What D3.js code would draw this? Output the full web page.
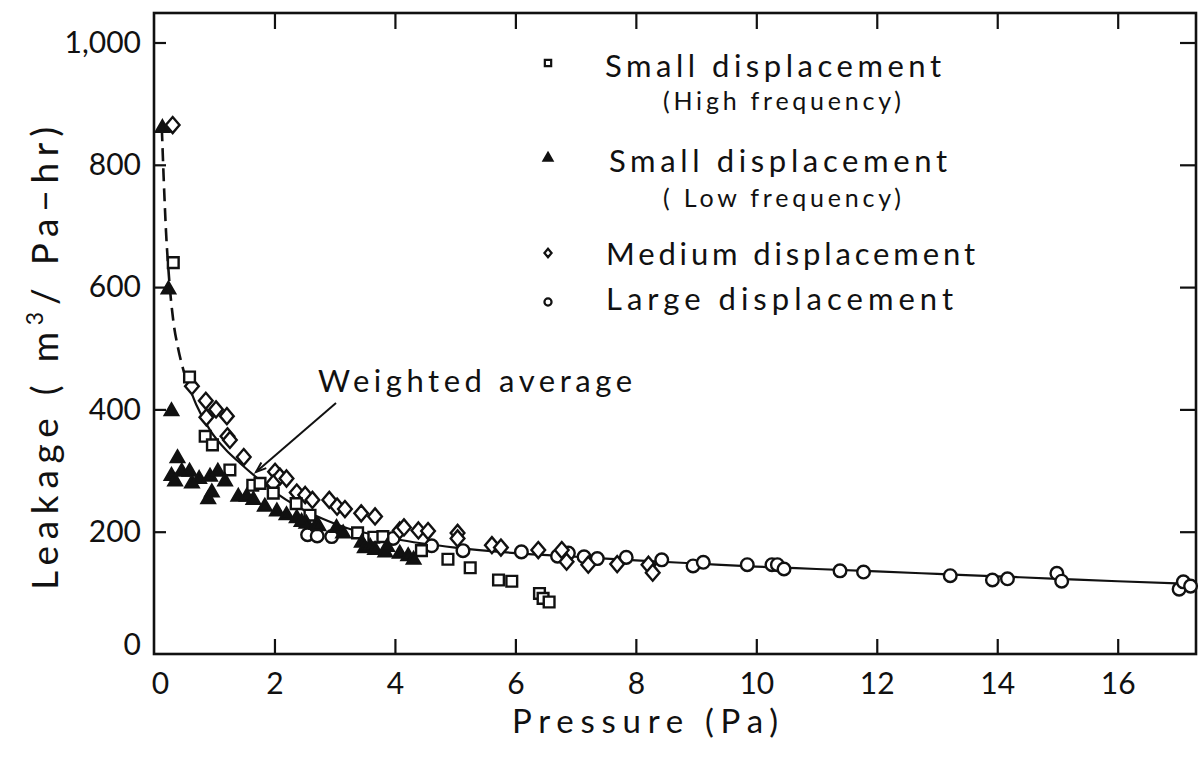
<!DOCTYPE html>
<html>
<head>
<meta charset="utf-8">
<script src="https://cdn.jsdelivr.net/npm/d3@7"></script>
<style>
  html, body { margin: 0; padding: 0; background: #fff; }
  svg { display: block; }
  text { font-family: Lato, "DejaVu Sans", sans-serif; fill: #111; }
</style>
</head>
<body>
<svg id="chart" width="1204" height="758"></svg>
<script>
// ---------------- data ----------------
const xTicks = [0, 2, 4, 6, 8, 10, 12, 14, 16];
const yTicks = [0, 200, 400, 600, 800, 1000];
const yTickLabels = ["0", "200", "400", "600", "800", "1,000"];

const seriesNames = ["Small displacement", "Small displacement", "Medium displacement", "Large displacement"];
const seriesSubs = ["(High frequency)", "( Low frequency)", "", ""];

// Small displacement (High frequency) - squares
const squareP = [0.32, 0.59, 0.85, 0.97, 1.26, 1.64, 1.76, 1.98, 2.36, 2.59, 3.38, 3.65, 3.80, 4.44, 4.88, 5.25, 5.72, 5.94, 6.40, 6.46, 6.56];
const squareL = [640, 453, 356, 342, 301, 276, 279, 263, 246, 227, 198, 191, 192, 169, 155, 141, 121, 119, 99, 91, 85];

// Small displacement (Low frequency) - filled triangles
const triP = [0.14, 0.24, 0.29, 0.39, 0.29, 0.35, 0.46, 0.59, 0.63, 0.75, 0.93, 1.06, 1.18, 0.96, 0.90, 1.40, 1.54, 1.65, 1.84, 2.04, 2.20, 2.37, 2.53, 2.45, 2.70, 2.73, 3.03, 3.14, 3.45, 3.50, 3.59, 3.67, 3.84, 3.87, 4.08, 4.22, 4.31];
const triL = [860, 596, 397, 320, 291, 282, 298, 298, 279, 286, 290, 298, 282, 264, 253, 257, 257, 252, 241, 233, 227, 222, 213, 216, 211, 209, 206, 197, 182, 173, 175, 170, 166, 175, 164, 160, 154];

// Medium displacement - diamonds
const diaP = [0.31, 0.63, 0.86, 1.03, 0.87, 1.21, 1.22, 1.26, 1.49, 2.01, 2.09, 2.20, 1.98, 2.37, 2.51, 2.63, 2.91, 3.04, 3.17, 3.44, 3.67, 4.08, 4.15, 4.39, 4.55, 5.04, 5.04, 5.61, 5.76, 6.38, 6.77, 6.85, 7.21, 7.69, 8.21, 8.28];
const diaL = [865, 438, 414, 400, 387, 389, 356, 350, 322, 298, 290, 287, 279, 264, 260, 252, 252, 241, 237, 230, 225, 202, 207, 202, 201, 198, 189, 178, 174, 170, 170, 151, 146, 147, 146, 133];

// Large displacement - open circles
const circP = [2.55, 2.71, 2.95, 3.97, 4.61, 5.13, 6.10, 6.70, 6.88, 7.14, 7.36, 7.84, 8.43, 8.95, 9.12, 9.85, 10.26, 10.35, 10.46, 11.39, 11.78, 13.22, 13.92, 14.17, 14.99, 15.07, 17.02, 17.09, 17.21];
const circL = [195, 193, 192, 189, 177, 169, 167, 160, 165, 159, 156, 158, 154, 144, 150, 146, 146, 146, 139, 136, 134, 128, 121, 123, 132, 119, 106, 118, 111];

// Weighted average curve (dashed part, then solid part)
const dashP = [0.13, 0.16, 0.20, 0.25, 0.32, 0.40, 0.50];
const dashL = [860, 780, 690, 615, 545, 500, 460];
const solidP = [0.50, 0.70, 0.93, 1.20, 1.43, 1.71, 2.00, 2.40, 2.80, 3.20, 3.60, 4.00, 5.00, 6.00, 7.00, 8.00, 9.00, 10.00, 11.00, 12.00, 13.00, 14.00, 15.00, 16.00, 17.10];
const solidL = [460, 408, 366, 333, 312, 288, 265, 240, 221, 206, 196, 188, 174, 165, 159, 153, 148, 143, 139, 135, 131, 127, 123, 119, 115];

// ---------------- drawing ----------------
const svg = d3.select("#chart");
const X0 = 154, X1 = 1196, Y0 = 654, YT = 13;
const x = d3.scaleLinear().domain([0, 17.3]).range([X0, X1]);
const y = d3.scaleLinear().domain([0, 1000]).range([Y0, 42.5]);

// frame
svg.append("rect").attr("x", X0).attr("y", YT).attr("width", X1 - X0).attr("height", Y0 - YT)
  .attr("fill", "none").attr("stroke", "#111").attr("stroke-width", 2.6);

// bottom axis
const gB = svg.append("g").attr("transform", `translate(0,${Y0})`)
  .call(d3.axisBottom(x).tickValues(xTicks).tickSize(-15).tickPadding(19).tickFormat(d3.format("d")));
gB.select(".domain").remove();
gB.selectAll(".tick line").attr("stroke", "#111").attr("stroke-width", 2.2)
  .attr("display", d => d === 0 ? "none" : null);
gB.selectAll(".tick text").attr("font-size", 30).attr("fill", "#111")
  .attr("dx", d => d === 0 ? 6 : 0);

// top axis (ticks only)
const gT = svg.append("g").attr("transform", `translate(0,${YT})`)
  .call(d3.axisTop(x).tickValues(xTicks.filter(d => d > 0)).tickSize(-16).tickFormat(""));
gT.select(".domain").remove();
gT.selectAll(".tick line").attr("stroke", "#111").attr("stroke-width", 2.2);

// left axis
const gL = svg.append("g").attr("transform", `translate(${X0},0)`)
  .call(d3.axisLeft(y).tickValues(yTicks).tickSize(-12).tickPadding(13)
    .tickFormat((d, i) => yTickLabels[i]));
gL.select(".domain").remove();
gL.selectAll(".tick line").attr("stroke", "#111").attr("stroke-width", 2.2)
  .attr("display", d => d === 0 ? "none" : null);
gL.selectAll(".tick text").attr("font-size", 30).attr("fill", "#111")
  .attr("dy", d => d === 0 ? "0.0em" : "0.32em");

// right axis (ticks only)
const gR = svg.append("g").attr("transform", `translate(${X1},0)`)
  .call(d3.axisRight(y).tickValues(yTicks.filter(d => d > 0)).tickSize(-16).tickFormat(""));
gR.select(".domain").remove();
gR.selectAll(".tick line").attr("stroke", "#111").attr("stroke-width", 2.2);

// axis titles
svg.append("text").attr("x", 645).attr("y", 733).attr("text-anchor", "middle")
  .attr("font-size", 33).attr("textLength", 266).attr("lengthAdjust", "spacing")
  .text("Pressure (Pa)");

const yt = svg.append("text").attr("transform", "translate(58,355) rotate(-90)")
  .attr("text-anchor", "middle").attr("font-size", 37);
yt.append("tspan").text("Leakage ( m");
yt.append("tspan").attr("font-size", 23).attr("dy", -15).text("3");
yt.append("tspan").attr("dy", 15).text("/ Pa\u2212hr)");
{
  const len = yt.node().getComputedTextLength();
  const n = "Leakage ( m3/ Pa-hr)".length;
  yt.attr("letter-spacing", Math.max(0, (470 - len) / n));
}

// curve
const line = d3.line().x(d => x(d[0])).y(d => y(d[1])).curve(d3.curveMonotoneX);
svg.append("path").datum(dashP.map((p, i) => [p, dashL[i]]))
  .attr("d", line).attr("fill", "none").attr("stroke", "#111").attr("stroke-width", 2.6)
  .attr("stroke-dasharray", "13,7");
svg.append("path").datum(solidP.map((p, i) => [p, solidL[i]]))
  .attr("d", line).attr("fill", "none").attr("stroke", "#111").attr("stroke-width", 2.2);

// marker generators
const wideDiamond = {
  draw(ctx, size) {
    const h = Math.sqrt(size / 1.7);
    const w = h * 0.85;
    ctx.moveTo(0, -h); ctx.lineTo(w, 0); ctx.lineTo(0, h); ctx.lineTo(-w, 0); ctx.closePath();
  }
};
const symSquare = d3.symbol().type(d3.symbolSquare);
const symTri = d3.symbol().type(d3.symbolTriangle);
const symDia = d3.symbol().type(wideDiamond);
const symCirc = d3.symbol().type(d3.symbolCircle);

function drawSeries(P, L, gen, size, filled) {
  svg.append("g").selectAll("path").data(P.map((p, i) => [p, L[i]])).join("path")
    .attr("transform", d => `translate(${x(d[0])},${y(d[1])})`)
    .attr("d", gen.size(size)())
    .attr("fill", filled ? "#111" : "#fff")
    .attr("stroke", "#111").attr("stroke-width", 2.4);
}
drawSeries(circP, circL, symCirc, 125, false);
drawSeries(diaP, diaL, symDia, 110, false);
drawSeries(squareP, squareL, symSquare, 115, false);
drawSeries(triP, triL, symTri, 75, true);

// legend
const legY = [63, 158, 253, 302];
const legGens = [symSquare, symTri, symDia, symCirc];
const legSizes = [40, 34, 30, 40];
legY.forEach((ly, i) => {
  svg.append("path").attr("transform", `translate(548,${ly})`)
    .attr("d", legGens[i].size(legSizes[i])())
    .attr("fill", i === 1 ? "#111" : "#fff").attr("stroke", "#111").attr("stroke-width", 2.2);
});
const legText = [
  {t: seriesNames[0], x: 605, y: 77, w: 336, fs: 31},
  {t: seriesSubs[0], x: 663, y: 110, w: 238, fs: 25},
  {t: seriesNames[1], x: 609, y: 172, w: 338, fs: 31},
  {t: seriesSubs[1], x: 663, y: 207, w: 238, fs: 25},
  {t: seriesNames[2], x: 606, y: 265, w: 369, fs: 31},
  {t: seriesNames[3], x: 606, y: 310, w: 347, fs: 31}
];
legText.forEach(o => {
  svg.append("text").attr("x", o.x).attr("y", o.y).attr("font-size", o.fs)
    .attr("textLength", o.w).attr("lengthAdjust", "spacing").text(o.t);
});

// annotation
svg.append("text").attr("x", 318).attr("y", 392).attr("font-size", 31)
  .attr("textLength", 314).attr("lengthAdjust", "spacing").text("Weighted average");
const ax1 = 336, ay1 = 403, ax2 = 256, ay2 = 472;
svg.append("line").attr("x1", ax1).attr("y1", ay1).attr("x2", ax2).attr("y2", ay2)
  .attr("stroke", "#111").attr("stroke-width", 2);
const ang = Math.atan2(ay2 - ay1, ax2 - ax1);
const ah = 11, aw = 0.35;
svg.append("path").attr("d",
  `M${ax2 - ah * Math.cos(ang - aw)},${ay2 - ah * Math.sin(ang - aw)} L${ax2},${ay2} L${ax2 - ah * Math.cos(ang + aw)},${ay2 - ah * Math.sin(ang + aw)}`)
  .attr("fill", "none").attr("stroke", "#111").attr("stroke-width", 2);
</script>
</body>
</html>
